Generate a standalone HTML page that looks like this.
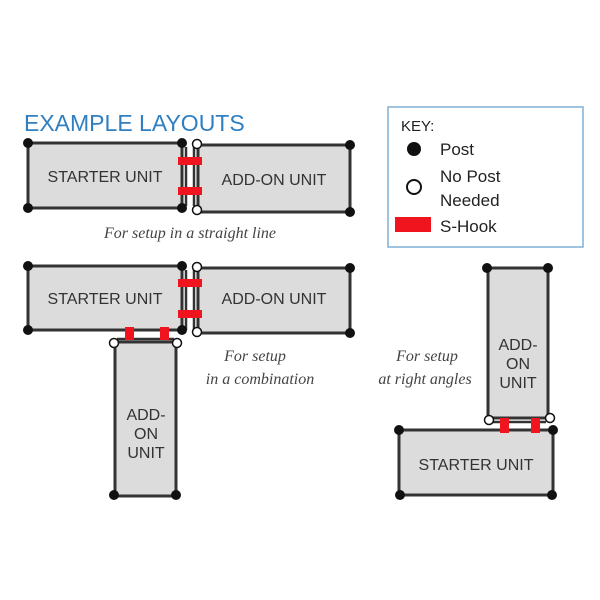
<!DOCTYPE html>
<html><head><style>body{margin:0;background:#fff}svg{display:block}</style></head><body>
<svg width="600" height="600" viewBox="0 0 600 600" xmlns="http://www.w3.org/2000/svg">
<g font-family="Liberation Sans, sans-serif">
<text x="24" y="131" font-size="23" fill="#2f7fc1">EXAMPLE LAYOUTS</text>
<!-- key -->
<rect x="388" y="107" width="195" height="140" fill="#fff" stroke="#7fb0d8" stroke-width="1.5"/>
<text x="401" y="131" font-size="15" fill="#222">KEY:</text>
<circle cx="414" cy="149" r="7" fill="#111"/>
<text x="440" y="155" font-size="17" fill="#222">Post</text>
<circle cx="414" cy="187" r="7" fill="#fff" stroke="#111" stroke-width="2"/>
<text x="440" y="182" font-size="17" fill="#222">No Post</text>
<text x="440" y="206" font-size="17" fill="#222">Needed</text>
<rect x="395" y="217" width="36" height="15" fill="#f0141e"/>
<text x="440" y="232" font-size="17" fill="#222">S-Hook</text>

<g stroke="#333" stroke-width="3" fill="#dcdcdc">
<rect x="28" y="143" width="154" height="65"/>
<rect x="198" y="145" width="152" height="67"/>
<rect x="28" y="266" width="154" height="64"/>
<rect x="198" y="268" width="152" height="65"/>
<rect x="115" y="342" width="61" height="154"/>
<rect x="488" y="268" width="60" height="150"/>
<rect x="399" y="430" width="154" height="65"/>
</g>
<g stroke="#333" stroke-width="2.5">
<line x1="186" y1="147" x2="186" y2="206"/><line x1="194" y1="147" x2="194" y2="206"/>
<line x1="186" y1="270" x2="186" y2="330"/><line x1="194" y1="270" x2="194" y2="330"/>
<line x1="117" y1="339" x2="174" y2="339"/>
<line x1="490" y1="422" x2="546" y2="422"/>
</g>
<g fill="#f0141e">
<rect x="178" y="157" width="24" height="8"/><rect x="178" y="187" width="24" height="8"/>
<rect x="178" y="279" width="24" height="8"/><rect x="178" y="310" width="24" height="8"/>
<rect x="125" y="327" width="9" height="13"/><rect x="160" y="327" width="9" height="13"/>
<rect x="500" y="418" width="9" height="15"/><rect x="531" y="418" width="9" height="15"/>
</g>
<g fill="#111">
<circle cx="28" cy="143" r="5"/><circle cx="28" cy="208" r="5"/><circle cx="182" cy="143" r="5"/><circle cx="182" cy="208" r="5"/>
<circle cx="350" cy="145" r="5"/><circle cx="350" cy="212" r="5"/>
<circle cx="28" cy="266" r="5"/><circle cx="28" cy="330" r="5"/><circle cx="182" cy="266" r="5"/><circle cx="182" cy="330" r="5"/>
<circle cx="350" cy="268" r="5"/><circle cx="350" cy="333" r="5"/>
<circle cx="114" cy="495" r="5"/><circle cx="176" cy="495" r="5"/>
<circle cx="487" cy="268" r="5"/><circle cx="548" cy="268" r="5"/>
<circle cx="399" cy="430" r="5"/><circle cx="553" cy="430" r="5"/><circle cx="400" cy="495" r="5"/><circle cx="552" cy="495" r="5"/>
</g>
<g fill="#fff" stroke="#111" stroke-width="1.5">
<circle cx="197" cy="144" r="4.5"/><circle cx="197" cy="210" r="4.5"/>
<circle cx="197" cy="267" r="4.5"/><circle cx="197" cy="332" r="4.5"/>
<circle cx="114" cy="343" r="4.5"/><circle cx="177" cy="343" r="4.5"/>
<circle cx="489" cy="420" r="4.5"/><circle cx="550" cy="418" r="4.5"/>
</g>
<g font-size="16" fill="#333" text-anchor="middle">
<text x="105" y="182">STARTER UNIT</text>
<text x="274" y="185">ADD-ON UNIT</text>
<text x="105" y="304">STARTER UNIT</text>
<text x="274" y="304">ADD-ON UNIT</text>
<text x="146" y="420">ADD-</text><text x="146" y="439">ON</text><text x="146" y="458">UNIT</text>
<text x="518" y="350">ADD-</text><text x="518" y="369">ON</text><text x="518" y="388">UNIT</text>
<text x="476" y="470">STARTER UNIT</text>
</g>
</g>
<g font-family="Liberation Serif, serif" font-style="italic" font-size="16" fill="#444" text-anchor="middle">
<text x="190" y="238">For setup in a straight line</text>
<text x="255" y="361">For setup</text>
<text x="260" y="384">in a combination</text>
<text x="427" y="361">For setup</text>
<text x="425" y="384">at right angles</text>
</g>
</svg>
</body></html>
